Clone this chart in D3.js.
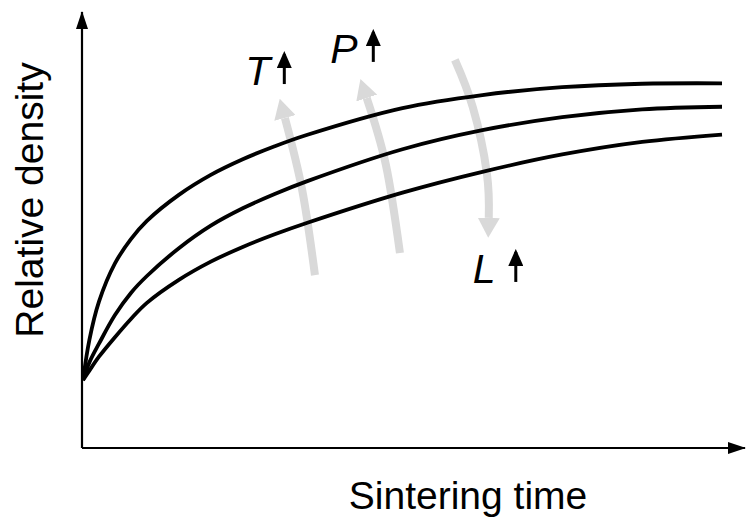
<!DOCTYPE html>
<html>
<head>
<meta charset="utf-8">
<script src="https://cdn.jsdelivr.net/npm/d3@7"></script>
<style>
  html, body { margin: 0; padding: 0; background: #fff; }
  svg { display: block; font-family: "Liberation Sans", Arial, sans-serif; }
</style>
</head>
<body>
<svg id="chart"></svg>
<script>
// sintering time (arbitrary units) and relative density (%)
const times = [0, 1, 2.5, 5, 7.5, 10, 15, 20, 25, 30, 35, 50, 62.5, 75, 87.5, 100];
const upperCurve = [15.4, 24.7, 33.5, 42.3, 47.9, 52.1, 58.1, 62.7, 66.3, 69.3, 71.9, 78.1, 81.1, 82.9, 83.7, 83.8];
const middleCurve = [15.4, 19.5, 23.8, 30.4, 35.5, 39.4, 45.8, 51.0, 55.0, 58.3, 61.2, 68.6, 73.0, 76.0, 77.8, 78.4];
const lowerCurve = [15.4, 17.6, 20.8, 25.3, 29.5, 33.2, 38.5, 42.7, 46.1, 49.0, 51.6, 58.6, 63.4, 67.4, 70.3, 72.0];

// grey trend arrows: [time, density] from tail to head
const trendT = [[36.3, 39.6], [34.3, 59.2], [31.6, 75.8]];
const trendP = [[49.6, 44.7], [47.4, 65.0], [44.4, 80.4]];
const trendL = [[58.2, 89.2], [61.0, 78.3], [63.2, 63.1], [63.5, 52.8]];

// parameter labels
const labelNames = ["T", "P", "L"];
const labelPos = [[25.4, 83.4], [38.7, 88.5], [61.0, 37.8]];

const xTitle = "Sintering time";
const yTitle = "Relative density";

class SketchChart {
    constructor(svg, width = 746, height = 520) {
        this.svg = d3.select(svg);
        this.width = width;
        this.height = height;
    }

    initialize() {
        this.svg.attr("width", this.width).attr("height", this.height);
        this.xScale = d3.scaleLinear().domain([0, 100]).range([83, 722]);
        this.yScale = d3.scaleLinear().domain([0, 100]).range([447, 13]);

        const defs = this.svg.append("defs");
        defs.append("marker")
            .attr("id", "axisHead")
            .attr("viewBox", "0 0 18 12")
            .attr("markerUnits", "userSpaceOnUse")
            .attr("markerWidth", 18).attr("markerHeight", 12)
            .attr("refX", 17).attr("refY", 6)
            .attr("orient", "auto")
            .append("path").attr("d", "M0,0 L18,6 L0,12 Z").attr("fill", "#000");
        defs.append("marker")
            .attr("id", "greyHead")
            .attr("viewBox", "0 0 20 22")
            .attr("markerUnits", "userSpaceOnUse")
            .attr("markerWidth", 20).attr("markerHeight", 22)
            .attr("refX", 0).attr("refY", 11)
            .attr("orient", "auto")
            .append("path").attr("d", "M0,0 L20,11 L0,22 Z").attr("fill", "#d9d9d9");
        defs.append("marker")
            .attr("id", "smallHead")
            .attr("viewBox", "0 0 17 15")
            .attr("markerUnits", "userSpaceOnUse")
            .attr("markerWidth", 17).attr("markerHeight", 15)
            .attr("refX", 14).attr("refY", 7.5)
            .attr("orient", "auto")
            .append("path").attr("d", "M0,0 L17,7.5 L0,15 Z").attr("fill", "#000");

        this.axes = this.svg.append("g");
        this.trends = this.svg.append("g");
        this.lines = this.svg.append("g");
        this.labels = this.svg.append("g");
    }

    update() {
        const x = this.xScale, y = this.yScale;
        const x0 = x(0) - 1, y0 = y(0) + 1;

        // axes with arrow heads, no ticks
        this.axes.append("line")
            .attr("x1", x0).attr("y1", y0).attr("x2", x0).attr("y2", 12)
            .attr("stroke", "#000").attr("stroke-width", 2.2)
            .attr("marker-end", "url(#axisHead)");
        this.axes.append("line")
            .attr("x1", x0).attr("y1", y0).attr("x2", this.width - 1).attr("y2", y0)
            .attr("stroke", "#000").attr("stroke-width", 2.2)
            .attr("marker-end", "url(#axisHead)");

        this.axes.append("text")
            .attr("x", 468).attr("y", 509)
            .attr("text-anchor", "middle")
            .attr("font-size", 39)
            .text(xTitle);
        this.axes.append("text")
            .attr("transform", `translate(43, 200) rotate(-90)`)
            .attr("text-anchor", "middle")
            .attr("font-size", 39)
            .text(yTitle);

        // grey trend arrows
        const trendLine = d3.line()
            .x(d => x(d[0])).y(d => y(d[1]))
            .curve(d3.curveNatural);
        this.trends.selectAll("path")
            .data([trendT, trendP, trendL])
            .join("path")
            .attr("d", trendLine)
            .attr("fill", "none")
            .attr("stroke", "#d9d9d9")
            .attr("stroke-width", 8)
            .attr("marker-end", "url(#greyHead)");

        // density curves
        const series = [upperCurve, middleCurve, lowerCurve];
        const curve = d3.line()
            .x((d, i) => x(times[i])).y(d => y(d))
            .curve(d3.curveCatmullRom.alpha(0.5));
        this.lines.selectAll("path")
            .data(series)
            .join("path")
            .attr("d", curve)
            .attr("fill", "none")
            .attr("stroke", "#000")
            .attr("stroke-width", 3.8)
            .attr("stroke-linejoin", "round");

        // T, P, L labels with little up arrows
        const lab = this.labels.selectAll("g")
            .data(labelNames)
            .join("g")
            .attr("transform", (d, i) => `translate(${x(labelPos[i][0])}, ${y(labelPos[i][1])})`);
        lab.append("text")
            .attr("font-size", 41)
            .attr("font-style", "italic")
            .text(d => d);
        lab.append("line")
            .attr("x1", (d, i) => i === 0 ? 39 : 43)
            .attr("x2", (d, i) => i === 0 ? 39 : 43)
            .attr("y1", -1).attr("y2", -31)
            .attr("stroke", "#000").attr("stroke-width", 3)
            .attr("marker-end", "url(#smallHead)");
    }
}

const chart = new SketchChart("#chart");
chart.initialize();
chart.update();
</script>
</body>
</html>
